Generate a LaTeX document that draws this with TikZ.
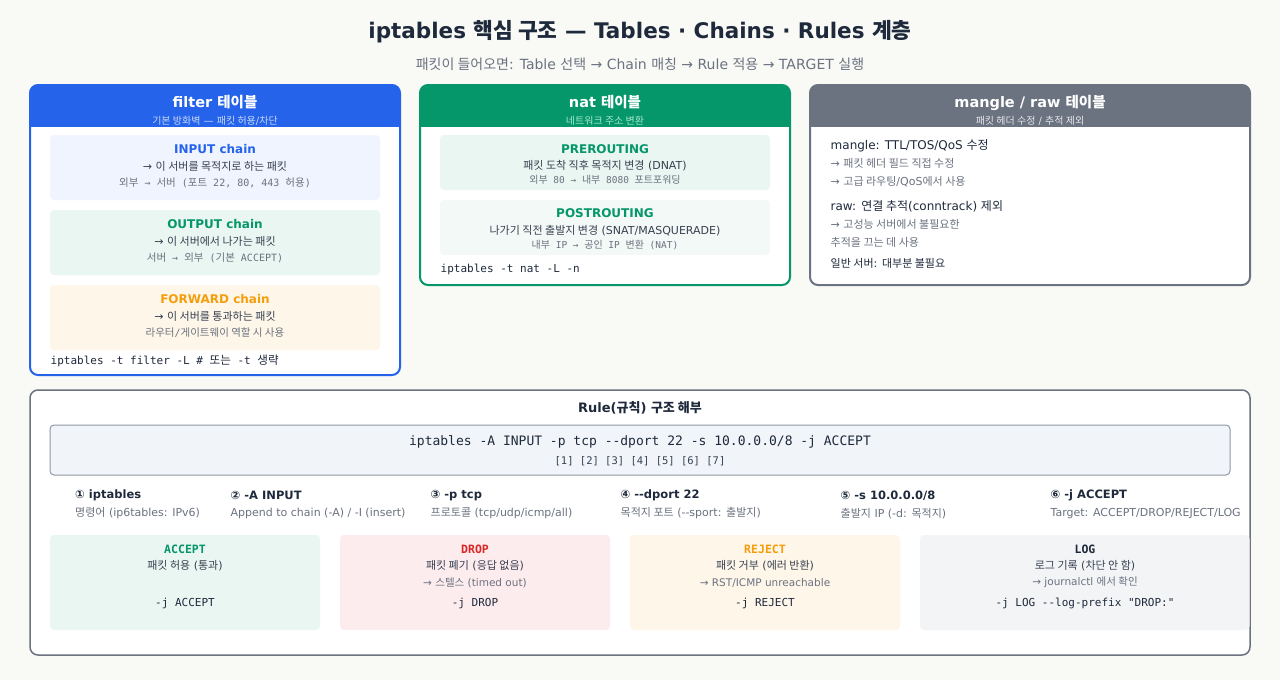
\documentclass[tikz,border=0pt]{standalone}
\usepackage{fontspec}
\usepackage{xcolor}
\usepackage{tikz}
\setmainfont{DejaVu Sans}
\setmonofont{DejaVu Sans Mono}
\newfontfamily\krsans[Scale=1.0]{Noto Sans CJK KR}
\newfontfamily\krmono[Scale=1.05]{Noto Sans CJK KR}
% Hangul runs: \ko in sans lines, \kom in mono lines
\newcommand\ko[1]{{\krsans #1}}
\newcommand\kom[1]{{\krmono #1}}

\definecolor{bgpaper}{HTML}{F9F9F6}
\definecolor{ink}{HTML}{1E293B}
\definecolor{txt}{HTML}{374151}
\definecolor{muted}{HTML}{6B7280}
\definecolor{filterblue}{HTML}{2563EB}
\definecolor{natgreen}{HTML}{059669}
\definecolor{slategrey}{HTML}{6B7280}
\definecolor{fwdorange}{HTML}{F59E0B}
\definecolor{dropred}{HTML}{DC2626}
\definecolor{filtersub}{HTML}{C7D8FA}
\definecolor{natsub}{HTML}{A7E8CF}
\definecolor{manglesub}{HTML}{E5E7EB}
\definecolor{inputbg}{HTML}{EFF4FE}
\definecolor{greenbg}{HTML}{E9F6F1}
\definecolor{postbg}{HTML}{F2F9F6}
\definecolor{orangebg}{HTML}{FEF6E9}
\definecolor{dropbg}{HTML}{FDECEE}
\definecolor{logbg}{HTML}{F3F4F6}
\definecolor{cmdbg}{HTML}{F1F5F9}
\definecolor{cmdborder}{HTML}{8F98A6}

\tikzset{
  tabletitle/.style={font=\fontsize{14.5}{17}\selectfont\bfseries, text=white},
  tablesub/.style={font=\fontsize{10}{12}\selectfont},
  chainname/.style={font=\fontsize{12}{14}\selectfont\bfseries},
  chaindesc/.style={font=\fontsize{11}{13}\selectfont, text=txt},
  chainnote/.style={font=\ttfamily\fontsize{10}{12}\selectfont, text=muted},
  cmdtext/.style={font=\ttfamily\fontsize{11}{13}\selectfont, text=ink, anchor=west, inner sep=0pt},
  mainline/.style={font=\fontsize{12}{14}\selectfont, text=ink, anchor=west, inner sep=0pt},
  greyline/.style={font=\fontsize{11}{13}\selectfont, text=muted, anchor=west, inner sep=0pt},
  parthead/.style={font=\fontsize{11.5}{14}\selectfont\bfseries, text=ink, anchor=west, inner sep=0pt},
  partdesc/.style={font=\fontsize{11}{13}\selectfont, text=muted, anchor=west, inner sep=0pt},
  targetname/.style={font=\ttfamily\fontsize{11.5}{14}\selectfont\bfseries},
  targetdesc/.style={font=\fontsize{11}{13}\selectfont, text=txt},
  targetnote/.style={font=\fontsize{10.5}{13}\selectfont, text=muted},
  targetcode/.style={font=\ttfamily\fontsize{11}{13}\selectfont, text=ink},
}

\begin{document}
\begin{tikzpicture}[x=1pt, y=-1pt]
    \fill[bgpaper] (0, 0) rectangle (1280, 680);
    \useasboundingbox (0, 0) rectangle (1280, 680);

    \node[font=\fontsize{21.5}{26}\selectfont\bfseries, text=ink] (title) at (640, 32)
    {iptables \ko{핵심 구조} — Tables · Chains · Rules \ko{계층}};
    \node[font=\fontsize{14}{17}\selectfont, text=muted] (subtitle) at (640, 64)
    {\ko{패킷이 들어오면}: Table \ko{선택} → Chain \ko{매칭} → Rule \ko{적용} → TARGET \ko{실행}};

    % filter table
    \begin{scope}
    \clip[rounded corners=8pt] (30, 85) rectangle (400, 375);
    \fill[white] (30, 85) rectangle (400, 375);
    \fill[filterblue] (30, 85) rectangle (400, 127);
    \end{scope}
    \draw[filterblue, line width=2pt, rounded corners=8pt] (30, 85) rectangle (400, 375);
    \node[tabletitle] (filterhead) at (215, 102.5) {filter \ko{테이블}};
    \node[tablesub, text=filtersub] (filtersubt) at (215, 120.5) {\ko{기본 방화벽} — \ko{패킷 허용}/\ko{차단}};

    \fill[inputbg, rounded corners=4pt] (50, 135) rectangle (380, 200);
    \node[chainname, text=filterblue] (inputname) at (215, 149) {INPUT chain};
    \node[chaindesc] (inputdesc) at (215, 166) {→ \ko{이 서버를 목적지로 하는 패킷}};
    \node[chainnote] (inputnote) at (215, 183) {\kom{외부} → \kom{서버} (\kom{포트} 22, 80, 443 \kom{허용})};

    \fill[greenbg, rounded corners=4pt] (50, 210) rectangle (380, 275);
    \node[chainname, text=natgreen] (outputname) at (215, 224) {OUTPUT chain};
    \node[chaindesc] (outputdesc) at (215, 241) {→ \ko{이 서버에서 나가는 패킷}};
    \node[chainnote] (outputnote) at (215, 258) {\kom{서버} → \kom{외부} (\kom{기본} ACCEPT)};

    \fill[orangebg, rounded corners=4pt] (50, 285) rectangle (380, 350);
    \node[chainname, text=fwdorange] (forwardname) at (215, 299) {FORWARD chain};
    \node[chaindesc] (forwarddesc) at (215, 316) {→ \ko{이 서버를 통과하는 패킷}};
    \node[chainnote] (forwardnote) at (215, 333) {\kom{라우터}/\kom{게이트웨이 역할 시 사용}};

    \node[cmdtext] (filtercmd) at (50.5, 361) {iptables -t filter -L \# \kom{또는} -t \kom{생략}};

    % nat table
    \begin{scope}
    \clip[rounded corners=8pt] (420, 85) rectangle (790, 285);
    \fill[white] (420, 85) rectangle (790, 285);
    \fill[natgreen] (420, 85) rectangle (790, 127);
    \end{scope}
    \draw[natgreen, line width=2pt, rounded corners=8pt] (420, 85) rectangle (790, 285);
    \node[tabletitle] (nathead) at (605, 102.5) {nat \ko{테이블}};
    \node[tablesub, text=natsub] (natsubt) at (605, 120.5) {\ko{네트워크 주소 변환}};

    \fill[greenbg, rounded corners=4pt] (440, 135) rectangle (770, 190);
    \node[chainname, text=natgreen] (prename) at (605, 149) {PREROUTING};
    \node[chaindesc] (predesc) at (605, 165.5) {\ko{패킷 도착 직후 목적지 변경} (DNAT)};
    \node[chainnote, font=\ttfamily\fontsize{9.5}{11}\selectfont] (prenote) at (605, 179.5)
    {\kom{외부} 80 → \kom{내부} 8080 \kom{포트포워딩}};

    \fill[postbg, rounded corners=4pt] (440, 200) rectangle (770, 255);
    \node[chainname, text=natgreen] (postname) at (605, 213.5) {POSTROUTING};
    \node[chaindesc] (postdesc) at (605, 230.5) {\ko{나가기 직전 출발지 변경} (SNAT/MASQUERADE)};
    \node[chainnote, font=\ttfamily\fontsize{9.5}{11}\selectfont] (postnote) at (605, 244.5)
    {\kom{내부} IP → \kom{공인} IP \kom{변환} (NAT)};

    \node[cmdtext] (natcmd) at (440.5, 269) {iptables -t nat -L -n};

    % mangle / raw table
    \begin{scope}
    \clip[rounded corners=8pt] (810, 85) rectangle (1250, 285);
    \fill[white] (810, 85) rectangle (1250, 285);
    \fill[slategrey] (810, 85) rectangle (1250, 127);
    \end{scope}
    \draw[slategrey, line width=2pt, rounded corners=8pt] (810, 85) rectangle (1250, 285);
    \node[tabletitle] (manglehead) at (1030, 102.5) {mangle / raw \ko{테이블}};
    \node[tablesub, text=manglesub] (manglesubt) at (1030, 120.5) {\ko{패킷 헤더 수정} / \ko{추적 제외}};

    \node[mainline] (mangle1) at (830.5, 145.5) {mangle: TTL/TOS/QoS \ko{수정}};
    \node[greyline] (mangle2) at (830.5, 163.5) {→ \ko{패킷 헤더 필드 직접 수정}};
    \node[greyline] (mangle3) at (830.5, 182) {→ \ko{고급 라우팅}/QoS\ko{에서 사용}};
    \node[mainline] (raw1) at (830.5, 206) {raw: \ko{연결 추적}(conntrack) \ko{제외}};
    \node[greyline] (raw2) at (830.5, 224) {→ \ko{고성능 서버에서 불필요한}};
    \node[greyline] (raw3) at (830.5, 242) {\ko{추적을 끄는 데 사용}};
    \node[mainline, font=\fontsize{11}{13}\selectfont] (rawnote) at (830.5, 263.5) {\ko{일반 서버}: \ko{대부분 불필요}};

    % rule anatomy
    \draw[slategrey, fill=white, line width=1.5pt, rounded corners=8pt] (30, 390) rectangle (1250, 655);
    \node[font=\fontsize{13}{16}\selectfont\bfseries, text=ink] (rulehead) at (640, 408) {Rule(\ko{규칙}) \ko{구조 해부}};

    \draw[cmdborder, fill=cmdbg, line width=1pt, rounded corners=4pt] (50, 425) rectangle (1230, 475);
    \node[font=\ttfamily\fontsize{13}{16}\selectfont, text=ink] (rulecmd) at (640, 442)
    {iptables -A INPUT -p tcp -{}-dport 22 -s 10.0.0.0/8 -j ACCEPT};
    \node[font=\ttfamily\fontsize{10.5}{13}\selectfont, text=txt] (ruleidx) at (640, 461) {[1] [2] [3] [4] [5] [6] [7]};

    \node[parthead] (part1) at (75, 495.5) {① iptables};
    \node[partdesc] (part1d) at (75, 513.5) {\ko{명령어} (ip6tables: IPv6)};
    \node[parthead] (part2) at (230.5, 495.5) {② -A INPUT};
    \node[partdesc] (part2d) at (230.5, 513.5) {Append to chain (-A) / -I (insert)};
    \node[parthead] (part3) at (430.5, 495.5) {③ -p tcp};
    \node[partdesc] (part3d) at (430.5, 513.5) {\ko{프로토콜} (tcp/udp/icmp/all)};
    \node[parthead] (part4) at (620.5, 495.5) {④ -{}-dport 22};
    \node[partdesc] (part4d) at (620.5, 513.5) {\ko{목적지 포트} (-{}-sport: \ko{출발지})};
    \node[parthead] (part5) at (840.5, 495.5) {⑤ -s 10.0.0.0/8};
    \node[partdesc] (part5d) at (840.5, 513.5) {\ko{출발지} IP (-d: \ko{목적지})};
    \node[parthead] (part6) at (1050.5, 495.5) {⑥ -j ACCEPT};
    \node[partdesc] (part6d) at (1050.5, 513.5) {Target: ACCEPT/DROP/REJECT/LOG};

    % targets
    \fill[greenbg, rounded corners=4pt] (50, 535) rectangle (320, 630);
    \node[targetname, text=natgreen] (acceptname) at (185, 549) {ACCEPT};
    \node[targetdesc] (acceptdesc) at (185, 565.5) {\ko{패킷 허용} (\ko{통과})};
    \node[targetcode] (acceptcode) at (185, 603) {-j ACCEPT};

    \fill[dropbg, rounded corners=4pt] (340, 535) rectangle (610, 630);
    \node[targetname, text=dropred] (dropname) at (475, 549) {DROP};
    \node[targetdesc] (dropdesc) at (475, 565.5) {\ko{패킷 폐기} (\ko{응답 없음})};
    \node[targetnote] (dropnote) at (475, 582.5) {→ \ko{스텔스} (timed out)};
    \node[targetcode] (dropcode) at (475, 603) {-j DROP};

    \fill[orangebg, rounded corners=4pt] (630, 535) rectangle (900, 630);
    \node[targetname, text=fwdorange] (rejectname) at (765, 549) {REJECT};
    \node[targetdesc] (rejectdesc) at (765, 565.5) {\ko{패킷 거부} (\ko{에러 반환})};
    \node[targetnote] (rejectnote) at (765, 582.5) {→ RST/ICMP unreachable};
    \node[targetcode] (rejectcode) at (765, 603) {-j REJECT};

    \fill[logbg, rounded corners=4pt] (920, 535) rectangle (1249.5, 630);
    \node[targetname, text=ink] (logname) at (1085, 549) {LOG};
    \node[targetdesc] (logdesc) at (1085, 565.5) {\ko{로그 기록} (\ko{차단 안 함})};
    \node[targetnote] (lognote) at (1085, 582.5) {→ journalctl \ko{에서 확인}};
    \node[targetcode] (logcode) at (1085, 603) {-j LOG -{}-log-prefix "DROP:"};
\end{tikzpicture}
\end{document}
